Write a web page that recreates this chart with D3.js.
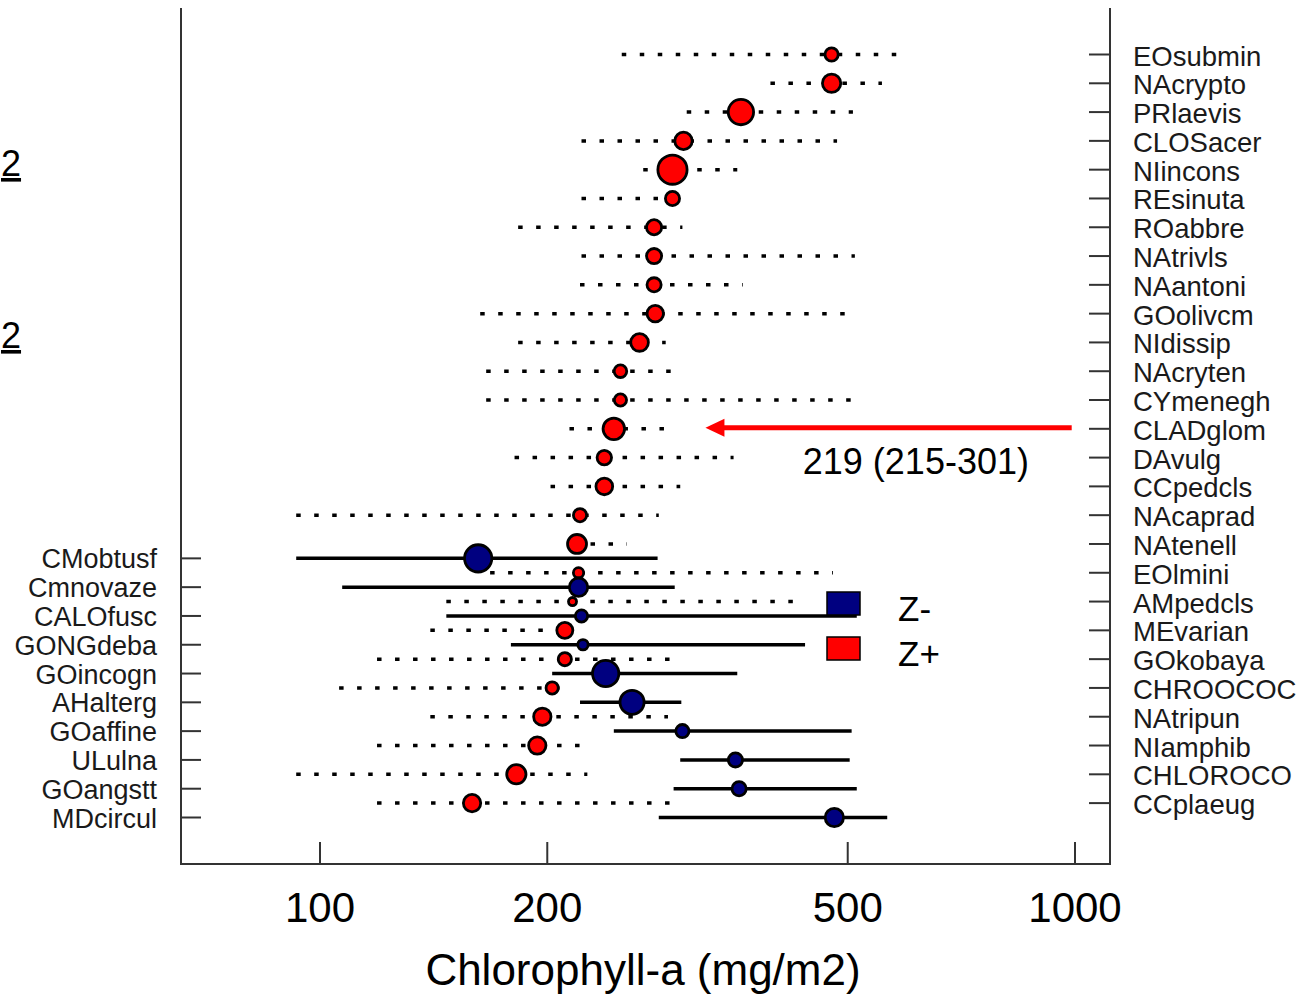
<!DOCTYPE html>
<html>
<head>
<meta charset="utf-8">
<script src="https://cdn.jsdelivr.net/npm/d3@7"></script>
<style>
  html, body { margin: 0; padding: 0; background: #fff; }
  svg { display: block; }
  text { font-family: "Liberation Sans", Arial, sans-serif; }
</style>
</head>
<body>
<svg id="chart" width="1303" height="996"></svg>
<script>
// ---------------- DATA ----------------
// Z+ taxa (red), top to bottom
const zPlusNames = ["EOsubmin","NAcrypto","PRlaevis","CLOSacer","NIincons","REsinuta","ROabbre","NAtrivls","NAantoni","GOolivcm","NIdissip","NAcryten","CYmenegh","CLADglom","DAvulg","CCpedcls","NAcaprad","NAtenell","EOlmini","AMpedcls","MEvarian","GOkobaya","CHROOCOC","NAtripun","NIamphib","CHLOROCO","CCplaeug"];
const zPlusChangePoint = [476,476,361,303,293,293,277,277,277,278,265,250,250,245,238,238,221,219,220,216,211,211,203,197,194,182,159];
const zPlusLower      = [251,395,306,222,268,222,183,222,221,163,183,166,166,214,181,202, 93,216,168,147,140,119,106,140,119, 93,119];
const zPlusUpper      = [581,555,508,484,357,300,302,511,363,496,287,292,506,286,353,300,281,255,478,423,217,291,208,289,221,226,291];
const zPlusPurity     = [0.50,0.66,0.88,0.63,1.00,0.53,0.56,0.56,0.53,0.60,0.64,0.48,0.47,0.76,0.54,0.61,0.50,0.68,0.41,0.34,0.59,0.50,0.47,0.63,0.63,0.69,0.63];

// Z- taxa (blue), top to bottom
const zMinusNames = ["CMobtusf","Cmnovaze","CALOfusc","GONGdeba","GOincogn","AHalterg","GOaffine","ULulna","GOangstt","MDcircul"];
const zMinusChangePoint = [162,220,222,223,239,259,302,355,359,480];
const zMinusLower       = [ 93,107,147,179,203,221,245,300,294,281];
const zMinusUpper       = [280,295,514,439,357,301,506,503,514,564];
const zMinusPurity      = [0.94,0.66,0.47,0.41,0.91,0.84,0.50,0.53,0.53,0.66];
const zMinusOffset = 17.5; // Z- rows sit between Z+ rows starting here

const xTicks = [100, 200, 500, 1000];
const xTitle = "Chlorophyll-a (mg/m2)";
const legendLabels = ["Z-", "Z+"];
const annotationText = "219 (215-301)";
const annotationRow = 13;          // CLADglom row
const annotationArrow = [990, 324]; // from, to (mg/m2)
const annotationTextAt = 436;

// ---------------- LAYOUT ----------------
const svg = d3.select("#chart");
const frame = {left: 181, right: 1110, top: 8, bottom: 864};

const x = d3.scaleLog().domain([100, 1000]).range([320, 1075]);
const y = d3.scaleLinear().domain([0, 26.5]).range([54.5, 817.5]);
const r = d3.scaleLinear().domain([0, 1]).range([0, 16]);

const zPlus = zPlusNames.map((n, i) => ({name: n, pos: i, cp: zPlusChangePoint[i], lo: zPlusLower[i], hi: zPlusUpper[i], p: zPlusPurity[i]}));
const zMinus = zMinusNames.map((n, i) => ({name: n, pos: zMinusOffset + i, cp: zMinusChangePoint[i], lo: zMinusLower[i], hi: zMinusUpper[i], p: zMinusPurity[i]}));

// underlined fragments at far left edge
[176, 348].forEach(yy => {
  svg.append("text").attr("x", 1).attr("y", yy).attr("text-anchor", "start")
    .attr("font-size", 36).attr("text-decoration", "underline").attr("fill", "#000").text("2");
});

// frame (left, bottom, right)
const axisColor = "#333";
svg.append("path")
  .attr("d", `M${frame.left},${frame.top}V${frame.bottom}H${frame.right}V${frame.top}`)
  .attr("fill", "none").attr("stroke", axisColor).attr("stroke-width", 2);

// bottom ticks (inward)
svg.append("g").selectAll("line").data(xTicks).join("line")
  .attr("x1", d => x(d)).attr("x2", d => x(d))
  .attr("y1", frame.bottom).attr("y2", frame.bottom - 22)
  .attr("stroke", axisColor).attr("stroke-width", 2);
svg.append("g").selectAll("text").data(xTicks).join("text")
  .attr("x", d => x(d)).attr("y", 922).attr("text-anchor", "middle")
  .attr("font-size", 42).attr("fill", "#000").text(d => d);

svg.append("text").attr("x", 643).attr("y", 985).attr("text-anchor", "middle")
  .attr("font-size", 44).attr("fill", "#000").text(xTitle);

// left ticks & labels (Z-)
svg.append("g").selectAll("line").data(zMinus).join("line")
  .attr("x1", frame.left).attr("x2", frame.left + 20)
  .attr("y1", d => y(d.pos)).attr("y2", d => y(d.pos))
  .attr("stroke", axisColor).attr("stroke-width", 2);
svg.append("g").selectAll("text").data(zMinus).join("text")
  .attr("x", 157).attr("y", d => y(d.pos) + 10).attr("text-anchor", "end")
  .attr("font-size", 27).attr("fill", "#1a1a1a").text(d => d.name);

// right ticks & labels (Z+)
svg.append("g").selectAll("line").data(zPlus).join("line")
  .attr("x1", frame.right - 21).attr("x2", frame.right)
  .attr("y1", d => y(d.pos)).attr("y2", d => y(d.pos))
  .attr("stroke", axisColor).attr("stroke-width", 2);
svg.append("g").selectAll("text").data(zPlus).join("text")
  .attr("x", 1133).attr("y", d => y(d.pos) + 11).attr("text-anchor", "start")
  .attr("font-size", 27.5).attr("fill", "#1a1a1a").text(d => d.name);

// Z+ dotted intervals
svg.append("g").selectAll("line").data(zPlus).join("line")
  .attr("x1", d => x(d.lo)).attr("x2", d => x(d.hi))
  .attr("y1", d => y(d.pos)).attr("y2", d => y(d.pos))
  .attr("stroke", "#000").attr("stroke-width", 3.5).attr("stroke-dasharray", "4.5 13.5");

// Z- solid intervals
svg.append("g").selectAll("line").data(zMinus).join("line")
  .attr("x1", d => x(d.lo)).attr("x2", d => x(d.hi))
  .attr("y1", d => y(d.pos)).attr("y2", d => y(d.pos))
  .attr("stroke", "#000").attr("stroke-width", 3.5);

// Z+ points
svg.append("g").selectAll("circle").data(zPlus).join("circle")
  .attr("cx", d => x(d.cp)).attr("cy", d => y(d.pos)).attr("r", d => r(d.p) - 1.4)
  .attr("fill", "#ff0000").attr("stroke", "#000").attr("stroke-width", 2.8);

// Z- points
svg.append("g").selectAll("circle").data(zMinus).join("circle")
  .attr("cx", d => x(d.cp)).attr("cy", d => y(d.pos)).attr("r", d => r(d.p) - 1.4)
  .attr("fill", "#000080").attr("stroke", "#000").attr("stroke-width", 2.8);

// legend
const legendColors = ["#000080", "#ff0000"];
const lg = svg.append("g");
legendLabels.forEach((lab, i) => {
  lg.append("rect").attr("x", 827).attr("y", 592 + i * 45).attr("width", 33).attr("height", 23)
    .attr("fill", legendColors[i]).attr("stroke", "#000").attr("stroke-width", 1.5);
  lg.append("text").attr("x", 898).attr("y", 621 + i * 45).attr("font-size", 35)
    .attr("fill", "#000").text(lab);
});

// annotation arrow
const ay = y(annotationRow) - 1;
const tip = x(annotationArrow[1]);
svg.append("line").attr("x1", x(annotationArrow[0])).attr("x2", tip + 16)
  .attr("y1", ay).attr("y2", ay).attr("stroke", "#ff0000").attr("stroke-width", 5);
svg.append("path").attr("d", `M${tip},${ay}L${tip + 19},${ay - 9}L${tip + 19},${ay + 9}Z`)
  .attr("fill", "#ff0000");
svg.append("text").attr("x", x(annotationTextAt)).attr("y", 474).attr("font-size", 36)
  .attr("fill", "#000").text(annotationText);
</script>
</body>
</html>
